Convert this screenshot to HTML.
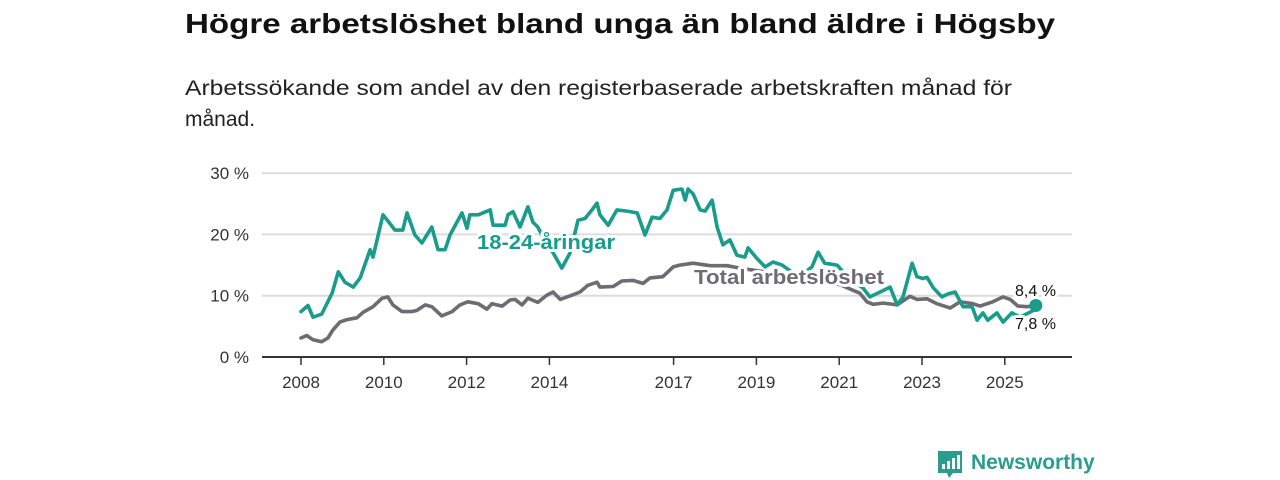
<!DOCTYPE html>
<html><head><meta charset="utf-8"><style>
html,body{margin:0;padding:0;background:#fff;width:1280px;height:480px;overflow:hidden}
svg{display:block;font-family:"Liberation Sans",sans-serif}
.halo{paint-order:stroke;stroke:#fff;stroke-width:6px;stroke-linejoin:round}
</style></head><body>
<svg id="chart" width="1280" height="480" viewBox="0 0 1280 480">
<text x="185" y="33" font-size="28" font-weight="bold" fill="#111" textLength="870" lengthAdjust="spacingAndGlyphs">Högre arbetslöshet bland unga än bland äldre i Högsby</text>
<text x="185" y="95" font-size="21" fill="#222" textLength="827" lengthAdjust="spacingAndGlyphs">Arbetssökande som andel av den registerbaserade arbetskraften månad för</text>
<text x="185" y="126" font-size="21" fill="#222">månad.</text>
<g id="grid"></g><g id="xaxis"></g><g id="series"></g><g id="labels"></g>
<g>
<path d="M938 451 h24 v22 h-9 l-4 5 l-2-5 h-9 z" fill="#2a9d8f"/>
<rect x="942" y="464" width="3" height="5" fill="#fff"/><rect x="947" y="461" width="3" height="8" fill="#fff"/><rect x="952" y="458" width="3" height="11" fill="#fff"/><rect x="957" y="455" width="3" height="14" fill="#fff"/>
<text x="971" y="469" font-size="21" fill="#2a9d8f" font-weight="bold">Newsworthy</text>
</g>
</svg>
<script>
const yTicks=[0,10,20,30];
const yearTicks=[2008,2010,2012,2014,2017,2019,2021,2023,2025];
const youthDates=[2008.0,2008.17,2008.29,2008.5,2008.75,2008.9,2009.06,2009.26,2009.43,2009.67,2009.74,2009.98,2010.27,2010.46,2010.56,2010.75,2010.92,2011.16,2011.31,2011.48,2011.6,2011.89,2012.01,2012.08,2012.28,2012.57,2012.64,2012.93,2013.0,2013.12,2013.29,2013.48,2013.6,2013.72,2013.89,2014.09,2014.3,2014.5,2014.69,2014.86,2015.03,2015.15,2015.22,2015.42,2015.63,2015.87,2016.12,2016.31,2016.48,2016.67,2016.84,2016.99,2017.2,2017.28,2017.35,2017.47,2017.64,2017.76,2017.93,2018.05,2018.19,2018.36,2018.53,2018.72,2018.8,2019.01,2019.21,2019.4,2019.62,2019.93,2020.17,2020.34,2020.49,2020.65,2020.95,2021.21,2021.4,2021.57,2021.74,2021.99,2022.23,2022.4,2022.54,2022.76,2022.88,2023.02,2023.12,2023.27,2023.48,2023.63,2023.8,2023.99,2024.21,2024.33,2024.47,2024.59,2024.81,2024.96,2025.17,2025.37,2025.75];
const youthValues=[7.4,8.4,6.5,7.0,10.4,13.9,12.2,11.4,12.9,17.5,16.3,23.2,20.7,20.7,23.5,19.9,18.6,21.2,17.5,17.5,19.9,23.5,21.0,23.2,23.2,24,21.5,21.5,23.2,23.7,21.2,24.5,22,21.2,19,17,14.5,17,22.3,22.6,24,25.1,23.2,21.5,24,23.8,23.5,19.9,22.8,22.6,24,27.2,27.4,25.6,27.4,26.6,24,23.8,25.6,21.2,18.3,19.1,16.6,16.3,17.8,16.1,14.7,15.5,15,13.5,13.8,14.7,17.1,15.3,15,13,12,11.3,9.8,10.6,11.4,8.5,9.8,15.3,13.1,12.8,13,11.3,9.8,10.3,10.6,8.2,8.2,6.0,7.2,6.0,7.2,5.7,7.2,6.5,7.8];
const totalDates=[2008.0,2008.14,2008.29,2008.5,2008.65,2008.77,2008.94,2009.11,2009.35,2009.5,2009.74,2009.96,2010.1,2010.22,2010.44,2010.68,2010.8,2011.0,2011.16,2011.4,2011.65,2011.84,2012.03,2012.28,2012.49,2012.61,2012.86,2013.05,2013.17,2013.34,2013.48,2013.72,2013.94,2014.09,2014.26,2014.55,2014.74,2014.93,2015.15,2015.22,2015.54,2015.75,2016.02,2016.26,2016.43,2016.74,2016.99,2017.15,2017.47,2017.88,2018.29,2018.6,2019.09,2019.57,2020.05,2020.54,2021.02,2021.26,2021.5,2021.67,2021.82,2022.06,2022.4,2022.71,2022.88,2023.12,2023.36,2023.68,2023.92,2024.23,2024.4,2024.71,2024.96,2025.13,2025.32,2025.54,2025.75];
const totalValues=[3.1,3.5,2.8,2.5,3.1,4.4,5.7,6.1,6.4,7.3,8.2,9.6,9.8,8.5,7.4,7.4,7.6,8.5,8.2,6.7,7.4,8.5,9.0,8.7,7.8,8.7,8.3,9.3,9.4,8.5,9.6,8.9,10.1,10.6,9.4,10.1,10.6,11.7,12.2,11.4,11.5,12.4,12.5,12.0,12.9,13.1,14.7,15.0,15.3,14.9,14.9,14.5,14.0,13.5,13.0,12.5,11.8,11.1,10.4,9.0,8.6,8.8,8.5,9.9,9.4,9.5,8.7,8.0,9.0,8.7,8.3,9.0,9.8,9.4,8.3,8.2,8.4];
const NS='http://www.w3.org/2000/svg';
const X=yr=>301+(yr-2008)*41.4;
const Y=v=>357-v*6.13;
function mk(tag,attrs,parent){const e=document.createElementNS(NS,tag);for(const k in attrs)e.setAttribute(k,attrs[k]);parent.appendChild(e);return e;}
const grid=document.getElementById('grid'),xa=document.getElementById('xaxis'),ser=document.getElementById('series'),lab=document.getElementById('labels');
yTicks.forEach(t=>{
 if(t>0){const l=mk('line',{x1:262,x2:1072,y1:Y(t),y2:Y(t),stroke:'#dcdcdc','stroke-width':2},grid);
 
 }
 const tx=mk('text',{x:249,y:Y(t)+6,'text-anchor':'end','font-size':17,fill:'#333'},grid);
 tx.textContent=t+' %';
 
 
});
const ax=mk('line',{x1:262,x2:1072,y1:Y(0),y2:Y(0),stroke:'#333','stroke-width':2},xa);


yearTicks.forEach(yr=>{
 const tk=mk('line',{x1:X(yr),x2:X(yr),y1:Y(0),y2:Y(0)+8,stroke:'#333','stroke-width':1.5},xa);
 
 
 const tx=mk('text',{x:X(yr),y:388,'text-anchor':'middle','font-size':17,fill:'#333'},xa);
 tx.textContent=yr;
 
 
});
function line(d,v,color,name){
 const p=mk('path',{d:d.map((t,i)=>(i?'L':'M')+X(t).toFixed(1)+' '+Y(v[i]).toFixed(1)).join(' '),fill:'none',stroke:color,'stroke-width':3.6,'stroke-linejoin':'round','stroke-linecap':'round'},ser);
 
 
}
line(totalDates,totalValues,'#6d6c72','total-line');
line(youthDates,youthValues,'#1a9c8c','youth-line');
const last=youthDates.length-1;
const m=mk('circle',{cx:X(youthDates[last]),cy:Y(totalValues[totalValues.length-1]),r:6.5,fill:'#1a9c8c'},ser);


function label(x,y,txt,color,size,weight,name,len){
 const t=mk('text',{x:x,y:y,'font-size':size,'font-weight':weight,fill:color,class:'halo'},lab);
 if(len){t.setAttribute('textLength',len);t.setAttribute('lengthAdjust','spacingAndGlyphs');}
 t.textContent=txt;
 
 
}
label(477,249,'18-24-åringar','#1a9c8c',20,'bold','youth-series-label',138);
label(694,284,'Total arbetslöshet','#6d6c72',20,'bold','total-series-label',190);
label(1015,296,'8,4 %','#111',16,'normal','total-end-value',41);
label(1015,329,'7,8 %','#111',16,'normal','youth-end-value',41);
</script>
</body></html>
